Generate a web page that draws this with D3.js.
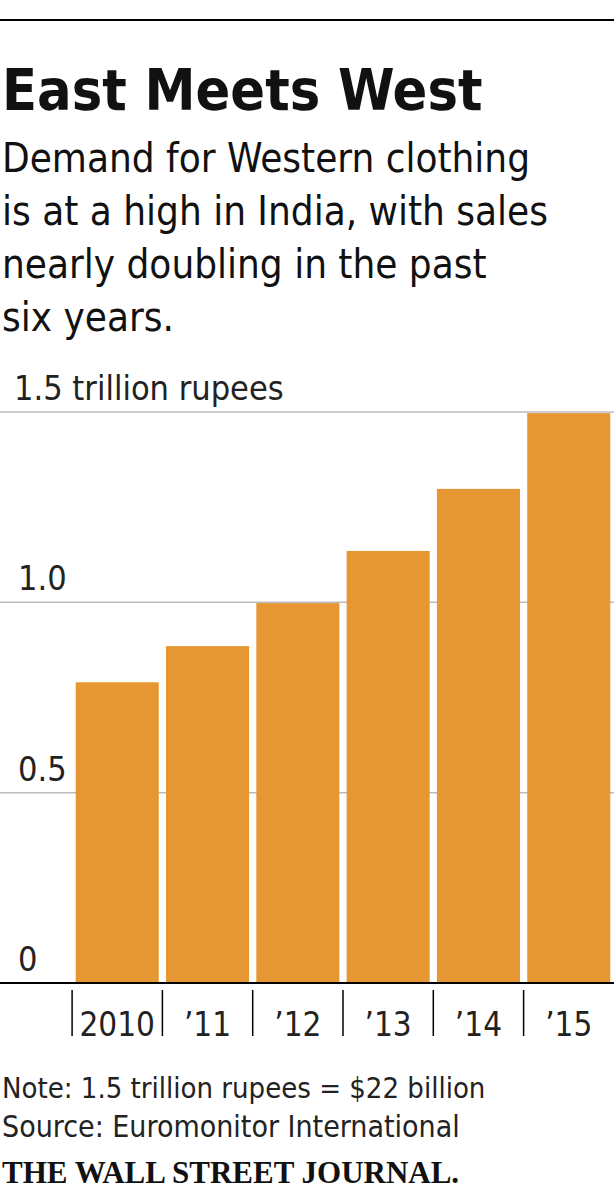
<!DOCTYPE html>
<html>
<head>
<script src="https://d3js.org/d3.v7.min.js"></script>
<style>body{margin:0;background:#fff}</style>
</head>
<body>
<div id="chart"></div>
<script>
const years = ["2010", "\u201911", "\u201912", "\u201913", "\u201914", "\u201915"];
const sales = [0.79, 0.885, 0.998, 1.135, 1.298, 1.497];
const yTicks = [0, 0.5, 1.0, 1.5];
const subtitle = ["Demand for Western clothing", "is at a high in India, with sales", "nearly doubling in the past", "six years."];

const W = 614, H = 1200;
const svg = d3.select("#chart").append("svg").attr("width", W).attr("height", H);
const font = "'Liberation Sans Narrow', 'DejaVu Sans Condensed', sans-serif";

svg.append("line").attr("x1", 0).attr("x2", W).attr("y1", 20).attr("y2", 20)
  .attr("stroke", "#000").attr("stroke-width", 2);
svg.append("text").attr("x", 2).attr("y", 110).text("East Meets West")
  .attr("font-family", font).attr("font-weight", "bold").attr("font-size", 57).attr("fill", "#111");
svg.selectAll(".sub").data(subtitle).join("text")
  .attr("x", 2).attr("y", (d, i) => 172 + i * 53).text(d => d)
  .attr("font-family", font).attr("font-size", 40).attr("fill", "#111");

const x = d3.scaleBand().domain(years).range([73, 613]).paddingInner(0.08).paddingOuter(0.03);
const y = d3.scaleLinear().domain([0, 1.5]).range([983, 412]);

svg.selectAll(".grid").data(yTicks.slice(1)).join("line")
  .attr("x1", 0).attr("x2", W).attr("y1", d => y(d)).attr("y2", d => y(d))
  .attr("stroke", "#bbb").attr("stroke-width", 1.5);

svg.selectAll(".bar").data(sales).join("rect")
  .attr("x", (d, i) => x(years[i])).attr("width", x.bandwidth())
  .attr("y", d => y(d)).attr("height", d => y(0) - y(d)).attr("fill", "#e69734");

svg.append("line").attr("x1", 0).attr("x2", W).attr("y1", y(0)).attr("y2", y(0))
  .attr("stroke", "#000").attr("stroke-width", 2);

svg.selectAll(".yl").data(yTicks).join("text")
  .attr("x", d => d === 1.5 ? 14 : 18).attr("y", d => y(d) - 12)
  .text(d => d === 0 ? "0" : d === 1.5 ? "1.5 trillion rupees" : d.toFixed(1))
  .attr("font-family", font).attr("font-size", 34).attr("fill", "#222");

svg.selectAll(".tk").data(years).join("line")
  .attr("x1", d => x(d) - x.step() * x.paddingInner() / 2).attr("x2", d => x(d) - x.step() * x.paddingInner() / 2)
  .attr("y1", 990).attr("y2", 1036).attr("stroke", "#000").attr("stroke-width", 1.5);
svg.selectAll(".xl").data(years).join("text")
  .attr("x", d => x(d) + x.bandwidth() / 2).attr("y", 1036).attr("text-anchor", "middle")
  .text(d => d).attr("font-family", font).attr("font-size", 33).attr("fill", "#222");

svg.append("text").attr("x", 2).attr("y", 1098).text("Note: 1.5 trillion rupees = $22 billion")
  .attr("font-family", font).attr("font-size", 29).attr("fill", "#222");
svg.append("text").attr("x", 2).attr("y", 1137).text("Source: Euromonitor International")
  .attr("font-family", font).attr("font-size", 30).attr("fill", "#222");
svg.append("text").attr("x", 2).attr("y", 1183).text("THE WALL STREET JOURNAL.")
  .attr("font-family", "'Liberation Serif', serif").attr("font-weight", "bold").attr("font-size", 31).attr("fill", "#111");
</script>
</body>
</html>
